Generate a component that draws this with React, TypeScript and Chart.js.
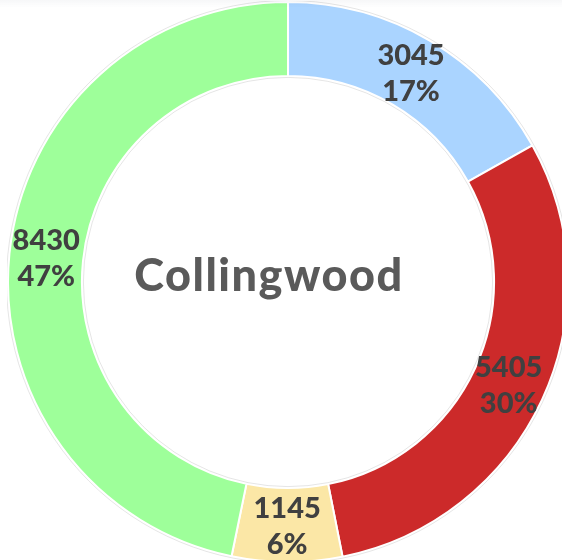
import React, { useEffect, useRef } from "react";
import { Chart, registerables } from "chart.js";

Chart.register(...registerables);

const categories = ["Segment A", "Segment B", "Segment C", "Segment D"];
const values = [3045, 5405, 1145, 8430];
const colors = ["#aad4ff", "#cc2a2a", "#fbe7a6", "#9eff9a"];
const centerTitle = "Collingwood";

const LABEL_FONT = "900 29px Lato";
const TITLE_FONT = "900 45px Lato";

const labelPlugin = {
  id: "segLabels",
  afterDatasetsDraw(chart: any) {
    const ctx = chart.ctx as CanvasRenderingContext2D;
    const meta = chart.getDatasetMeta(0);
    const data = chart.data.datasets[0].data as number[];
    const total = data.reduce((a, b) => a + b, 0);
    ctx.save();
    const first = meta.data[0];
    if (first) {
      ctx.strokeStyle = "rgba(0,0,0,0.10)";
      ctx.lineWidth = 1;
      ctx.beginPath();
      ctx.arc(first.x, first.y, first.outerRadius + 1.5, 0, Math.PI * 2);
      ctx.stroke();
      ctx.beginPath();
      ctx.arc(first.x, first.y, first.innerRadius - 1.5, 0, Math.PI * 2);
      ctx.stroke();
    }
    ctx.fillStyle = "#404040";
    ctx.font = LABEL_FONT;
    ctx.textAlign = "center";
    ctx.textBaseline = "alphabetic";
    meta.data.forEach((arc: any, i: number) => {
      const p = arc.tooltipPosition(false);
      const v = data[i];
      const pct = Math.round((v / total) * 100) + "%";
      ctx.fillText(String(v), p.x, p.y - 7);
      ctx.fillText(pct, p.x, p.y + 29);
    });
    if (first) {
      ctx.fillStyle = "#5a5a5a";
      ctx.font = TITLE_FONT;
      (ctx as any).letterSpacing = "1.5px";
      ctx.fillText(centerTitle, first.x - 19, first.y + 9);
    }
    ctx.restore();
  },
};

export default function App() {
  const ref = useRef<HTMLCanvasElement | null>(null);
  useEffect(() => {
    document.body.style.margin = "0";
    const canvas = ref.current!;
    const chart = new Chart(canvas, {
      type: "doughnut",
      data: {
        labels: categories,
        datasets: [
          {
            data: values,
            backgroundColor: colors,
            borderColor: "#ffffff",
            borderWidth: 2,
            hoverOffset: 0,
          },
        ],
      },
      options: {
        responsive: false,
        animation: false,
        cutout: "73.6%",
        layout: { padding: 0 },
        plugins: {
          legend: { display: false },
          tooltip: { enabled: false },
          title: { display: false },
        },
      },
      plugins: [labelPlugin],
    });
    return () => chart.destroy();
  }, []);
  return (
    <div
      style={{
        position: "fixed",
        left: 0,
        top: 0,
        width: 562,
        height: 560,
        overflow: "hidden",
        background: "#ffffff",
      }}
    >
      <canvas
        ref={ref}
        width={562}
        height={562}
        style={{ position: "absolute", left: 7, top: 1, width: 562, height: 562 }}
      />
      <div
        style={{
          position: "absolute",
          left: 0,
          top: 0,
          width: 562,
          height: 8,
          background: "linear-gradient(rgba(0,20,60,0.03), rgba(0,20,60,0))",
          pointerEvents: "none",
        }}
      />
    </div>
  );
}
